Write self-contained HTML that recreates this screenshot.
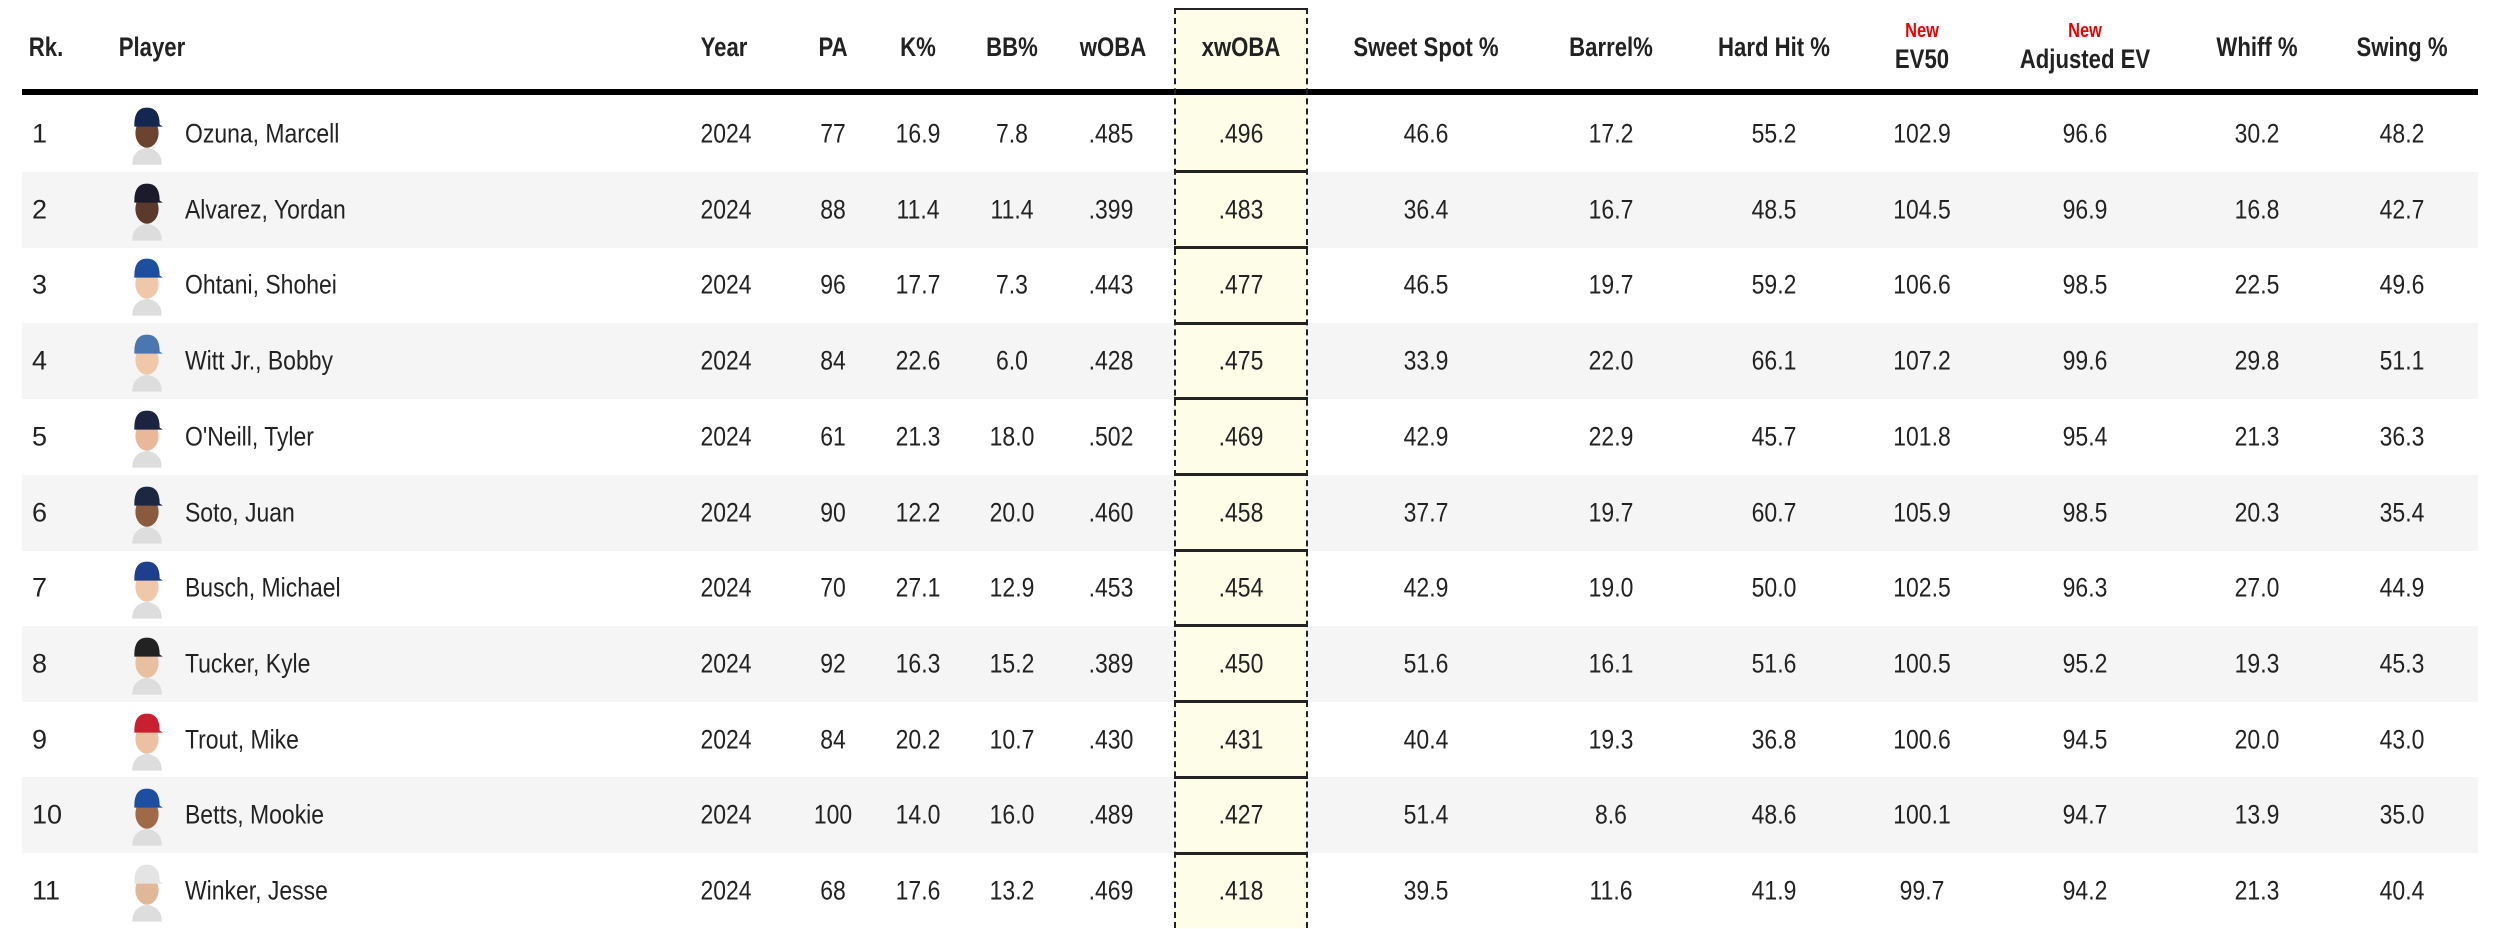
<!DOCTYPE html>
<html><head><meta charset="utf-8"><style>
body{margin:0;width:2500px;height:924px;background:#fff;overflow:hidden;font-family:"Liberation Sans",sans-serif;color:#222;position:relative}
.h{position:absolute;top:32px;font-weight:bold;font-size:27px;transform:translateX(-50%) scaleX(.82);white-space:nowrap;color:#222}
.new{position:absolute;top:20px;color:#e00;font-weight:bold;font-size:20px;transform:translateX(-50%) scaleX(.82)}
.line{position:absolute;left:22px;width:2456px;top:89px;height:6px;background:#000}
.row{position:absolute;left:22px;width:2456px;height:76px}
.alt{background:#f5f5f5}
.row div{position:absolute;top:50%;transform:translate(-50%,-50%) scaleX(.85);font-size:27px;white-space:nowrap}
.row .rk{left:10px;transform:translateY(-50%);transform-origin:left center}
.row .nm{left:163px;transform:translateY(-50%) scaleX(.85);transform-origin:left center}
.row svg{position:absolute;left:106px;top:7px}
.a1{left:704px}.a2{left:811px}.a3{left:896px}.a4{left:990px}.a5{left:1089px}.a6{left:1219px}.a7{left:1404px}.a8{left:1589px}.a9{left:1752px}.a10{left:1900px}.a11{left:2063px}.a12{left:2235px}.a13{left:2380px}
.row .xbg{left:1154px;width:130px;height:100%;top:0;background:#fdfde8;transform:none}
.xcol{position:absolute;left:1174px;width:134px;top:8px;height:920px;background:#fdfde8;box-sizing:border-box}
.xbd{position:absolute;left:1174px;width:134px;top:8px;height:920px;border-left:2px dashed #222;border-right:2px dashed #222;border-top:2px solid #222;box-sizing:border-box}
.sep{position:absolute;left:1174px;width:134px;height:3px;background:#222}
</style></head><body>
<div class="xcol"></div>
<div class="h" style="left:46px">Rk.</div>
<div class="h" style="left:152px">Player</div>
<div class="h" style="left:724px">Year</div>
<div class="h" style="left:833px">PA</div>
<div class="h" style="left:918px">K%</div>
<div class="h" style="left:1012px">BB%</div>
<div class="h" style="left:1113px">wOBA</div>
<div class="h" style="left:1241px">xwOBA</div>
<div class="h" style="left:1426px">Sweet Spot %</div>
<div class="h" style="left:1611px">Barrel%</div>
<div class="h" style="left:1774px">Hard Hit %</div>
<div class="new" style="left:1922px">New</div>
<div class="h" style="left:1922px;top:44px">EV50</div>
<div class="new" style="left:2085px">New</div>
<div class="h" style="left:2085px;top:44px">Adjusted EV</div>
<div class="h" style="left:2257px">Whiff %</div>
<div class="h" style="left:2402px">Swing %</div>
<div class="line"></div>

<div class="row" style="top:96px"><div class="rk">1</div><svg width="38" height="62" viewBox="0 0 36 58"><path d="M4 58 Q4 44 18 42 Q32 44 32 58Z" fill="#ddd"/><ellipse cx="18" cy="28" rx="11" ry="14" fill="#6b4430"/><path d="M6 20 Q6 4 18 4 Q30 4 30 20 L33 22 L6 22Z" fill="#13274f"/></svg><div class="nm">Ozuna, Marcell</div><div class="a1">2024</div><div class="a2">77</div><div class="a3">16.9</div><div class="a4">7.8</div><div class="a5">.485</div><div class="a6">.496</div><div class="a7">46.6</div><div class="a8">17.2</div><div class="a9">55.2</div><div class="a10">102.9</div><div class="a11">96.6</div><div class="a12">30.2</div><div class="a13">48.2</div></div>

<div class="row alt" style="top:171.7px"><div class="xbg"></div><div class="rk">2</div><svg width="38" height="62" viewBox="0 0 36 58"><path d="M4 58 Q4 44 18 42 Q32 44 32 58Z" fill="#ddd"/><ellipse cx="18" cy="28" rx="11" ry="14" fill="#5a3a2a"/><path d="M6 20 Q6 4 18 4 Q30 4 30 20 L33 22 L6 22Z" fill="#1b1b2b"/></svg><div class="nm">Alvarez, Yordan</div><div class="a1">2024</div><div class="a2">88</div><div class="a3">11.4</div><div class="a4">11.4</div><div class="a5">.399</div><div class="a6">.483</div><div class="a7">36.4</div><div class="a8">16.7</div><div class="a9">48.5</div><div class="a10">104.5</div><div class="a11">96.9</div><div class="a12">16.8</div><div class="a13">42.7</div></div>

<div class="row" style="top:247.4px"><div class="rk">3</div><svg width="38" height="62" viewBox="0 0 36 58"><path d="M4 58 Q4 44 18 42 Q32 44 32 58Z" fill="#ddd"/><ellipse cx="18" cy="28" rx="11" ry="14" fill="#f0c8a8"/><path d="M6 20 Q6 4 18 4 Q30 4 30 20 L33 22 L6 22Z" fill="#1c4fa0"/></svg><div class="nm">Ohtani, Shohei</div><div class="a1">2024</div><div class="a2">96</div><div class="a3">17.7</div><div class="a4">7.3</div><div class="a5">.443</div><div class="a6">.477</div><div class="a7">46.5</div><div class="a8">19.7</div><div class="a9">59.2</div><div class="a10">106.6</div><div class="a11">98.5</div><div class="a12">22.5</div><div class="a13">49.6</div></div>

<div class="row alt" style="top:323.1px"><div class="xbg"></div><div class="rk">4</div><svg width="38" height="62" viewBox="0 0 36 58"><path d="M4 58 Q4 44 18 42 Q32 44 32 58Z" fill="#ddd"/><ellipse cx="18" cy="28" rx="11" ry="14" fill="#f0c8a8"/><path d="M6 20 Q6 4 18 4 Q30 4 30 20 L33 22 L6 22Z" fill="#4a77b0"/></svg><div class="nm">Witt Jr., Bobby</div><div class="a1">2024</div><div class="a2">84</div><div class="a3">22.6</div><div class="a4">6.0</div><div class="a5">.428</div><div class="a6">.475</div><div class="a7">33.9</div><div class="a8">22.0</div><div class="a9">66.1</div><div class="a10">107.2</div><div class="a11">99.6</div><div class="a12">29.8</div><div class="a13">51.1</div></div>

<div class="row" style="top:398.8px"><div class="rk">5</div><svg width="38" height="62" viewBox="0 0 36 58"><path d="M4 58 Q4 44 18 42 Q32 44 32 58Z" fill="#ddd"/><ellipse cx="18" cy="28" rx="11" ry="14" fill="#e8b898"/><path d="M6 20 Q6 4 18 4 Q30 4 30 20 L33 22 L6 22Z" fill="#1b2340"/></svg><div class="nm">O'Neill, Tyler</div><div class="a1">2024</div><div class="a2">61</div><div class="a3">21.3</div><div class="a4">18.0</div><div class="a5">.502</div><div class="a6">.469</div><div class="a7">42.9</div><div class="a8">22.9</div><div class="a9">45.7</div><div class="a10">101.8</div><div class="a11">95.4</div><div class="a12">21.3</div><div class="a13">36.3</div></div>

<div class="row alt" style="top:474.5px"><div class="xbg"></div><div class="rk">6</div><svg width="38" height="62" viewBox="0 0 36 58"><path d="M4 58 Q4 44 18 42 Q32 44 32 58Z" fill="#ddd"/><ellipse cx="18" cy="28" rx="11" ry="14" fill="#8a5a3c"/><path d="M6 20 Q6 4 18 4 Q30 4 30 20 L33 22 L6 22Z" fill="#1c2841"/></svg><div class="nm">Soto, Juan</div><div class="a1">2024</div><div class="a2">90</div><div class="a3">12.2</div><div class="a4">20.0</div><div class="a5">.460</div><div class="a6">.458</div><div class="a7">37.7</div><div class="a8">19.7</div><div class="a9">60.7</div><div class="a10">105.9</div><div class="a11">98.5</div><div class="a12">20.3</div><div class="a13">35.4</div></div>

<div class="row" style="top:550.2px"><div class="rk">7</div><svg width="38" height="62" viewBox="0 0 36 58"><path d="M4 58 Q4 44 18 42 Q32 44 32 58Z" fill="#ddd"/><ellipse cx="18" cy="28" rx="11" ry="14" fill="#f0c8a8"/><path d="M6 20 Q6 4 18 4 Q30 4 30 20 L33 22 L6 22Z" fill="#1e3f8c"/></svg><div class="nm">Busch, Michael</div><div class="a1">2024</div><div class="a2">70</div><div class="a3">27.1</div><div class="a4">12.9</div><div class="a5">.453</div><div class="a6">.454</div><div class="a7">42.9</div><div class="a8">19.0</div><div class="a9">50.0</div><div class="a10">102.5</div><div class="a11">96.3</div><div class="a12">27.0</div><div class="a13">44.9</div></div>

<div class="row alt" style="top:625.9px"><div class="xbg"></div><div class="rk">8</div><svg width="38" height="62" viewBox="0 0 36 58"><path d="M4 58 Q4 44 18 42 Q32 44 32 58Z" fill="#ddd"/><ellipse cx="18" cy="28" rx="11" ry="14" fill="#e8c0a0"/><path d="M6 20 Q6 4 18 4 Q30 4 30 20 L33 22 L6 22Z" fill="#222"/></svg><div class="nm">Tucker, Kyle</div><div class="a1">2024</div><div class="a2">92</div><div class="a3">16.3</div><div class="a4">15.2</div><div class="a5">.389</div><div class="a6">.450</div><div class="a7">51.6</div><div class="a8">16.1</div><div class="a9">51.6</div><div class="a10">100.5</div><div class="a11">95.2</div><div class="a12">19.3</div><div class="a13">45.3</div></div>

<div class="row" style="top:701.6px"><div class="rk">9</div><svg width="38" height="62" viewBox="0 0 36 58"><path d="M4 58 Q4 44 18 42 Q32 44 32 58Z" fill="#ddd"/><ellipse cx="18" cy="28" rx="11" ry="14" fill="#ecc0a0"/><path d="M6 20 Q6 4 18 4 Q30 4 30 20 L33 22 L6 22Z" fill="#c8202f"/></svg><div class="nm">Trout, Mike</div><div class="a1">2024</div><div class="a2">84</div><div class="a3">20.2</div><div class="a4">10.7</div><div class="a5">.430</div><div class="a6">.431</div><div class="a7">40.4</div><div class="a8">19.3</div><div class="a9">36.8</div><div class="a10">100.6</div><div class="a11">94.5</div><div class="a12">20.0</div><div class="a13">43.0</div></div>

<div class="row alt" style="top:777.3px"><div class="xbg"></div><div class="rk">10</div><svg width="38" height="62" viewBox="0 0 36 58"><path d="M4 58 Q4 44 18 42 Q32 44 32 58Z" fill="#ddd"/><ellipse cx="18" cy="28" rx="11" ry="14" fill="#a06a48"/><path d="M6 20 Q6 4 18 4 Q30 4 30 20 L33 22 L6 22Z" fill="#1c4fa0"/></svg><div class="nm">Betts, Mookie</div><div class="a1">2024</div><div class="a2">100</div><div class="a3">14.0</div><div class="a4">16.0</div><div class="a5">.489</div><div class="a6">.427</div><div class="a7">51.4</div><div class="a8">8.6</div><div class="a9">48.6</div><div class="a10">100.1</div><div class="a11">94.7</div><div class="a12">13.9</div><div class="a13">35.0</div></div>

<div class="row" style="top:853px"><div class="rk">11</div><svg width="38" height="62" viewBox="0 0 36 58"><path d="M4 58 Q4 44 18 42 Q32 44 32 58Z" fill="#ddd"/><ellipse cx="18" cy="28" rx="11" ry="14" fill="#e0b898"/><path d="M6 20 Q6 4 18 4 Q30 4 30 20 L33 22 L6 22Z" fill="#e4e4e4"/></svg><div class="nm">Winker, Jesse</div><div class="a1">2024</div><div class="a2">68</div><div class="a3">17.6</div><div class="a4">13.2</div><div class="a5">.469</div><div class="a6">.418</div><div class="a7">39.5</div><div class="a8">11.6</div><div class="a9">41.9</div><div class="a10">99.7</div><div class="a11">94.2</div><div class="a12">21.3</div><div class="a13">40.4</div></div>

<div class="xbd"></div>
<div class="sep" style="top:170px"></div>
<div class="sep" style="top:246px"></div>
<div class="sep" style="top:322px"></div>
<div class="sep" style="top:397px"></div>
<div class="sep" style="top:473px"></div>
<div class="sep" style="top:549px"></div>
<div class="sep" style="top:624px"></div>
<div class="sep" style="top:700px"></div>
<div class="sep" style="top:776px"></div>
<div class="sep" style="top:852px"></div>
</body></html>
